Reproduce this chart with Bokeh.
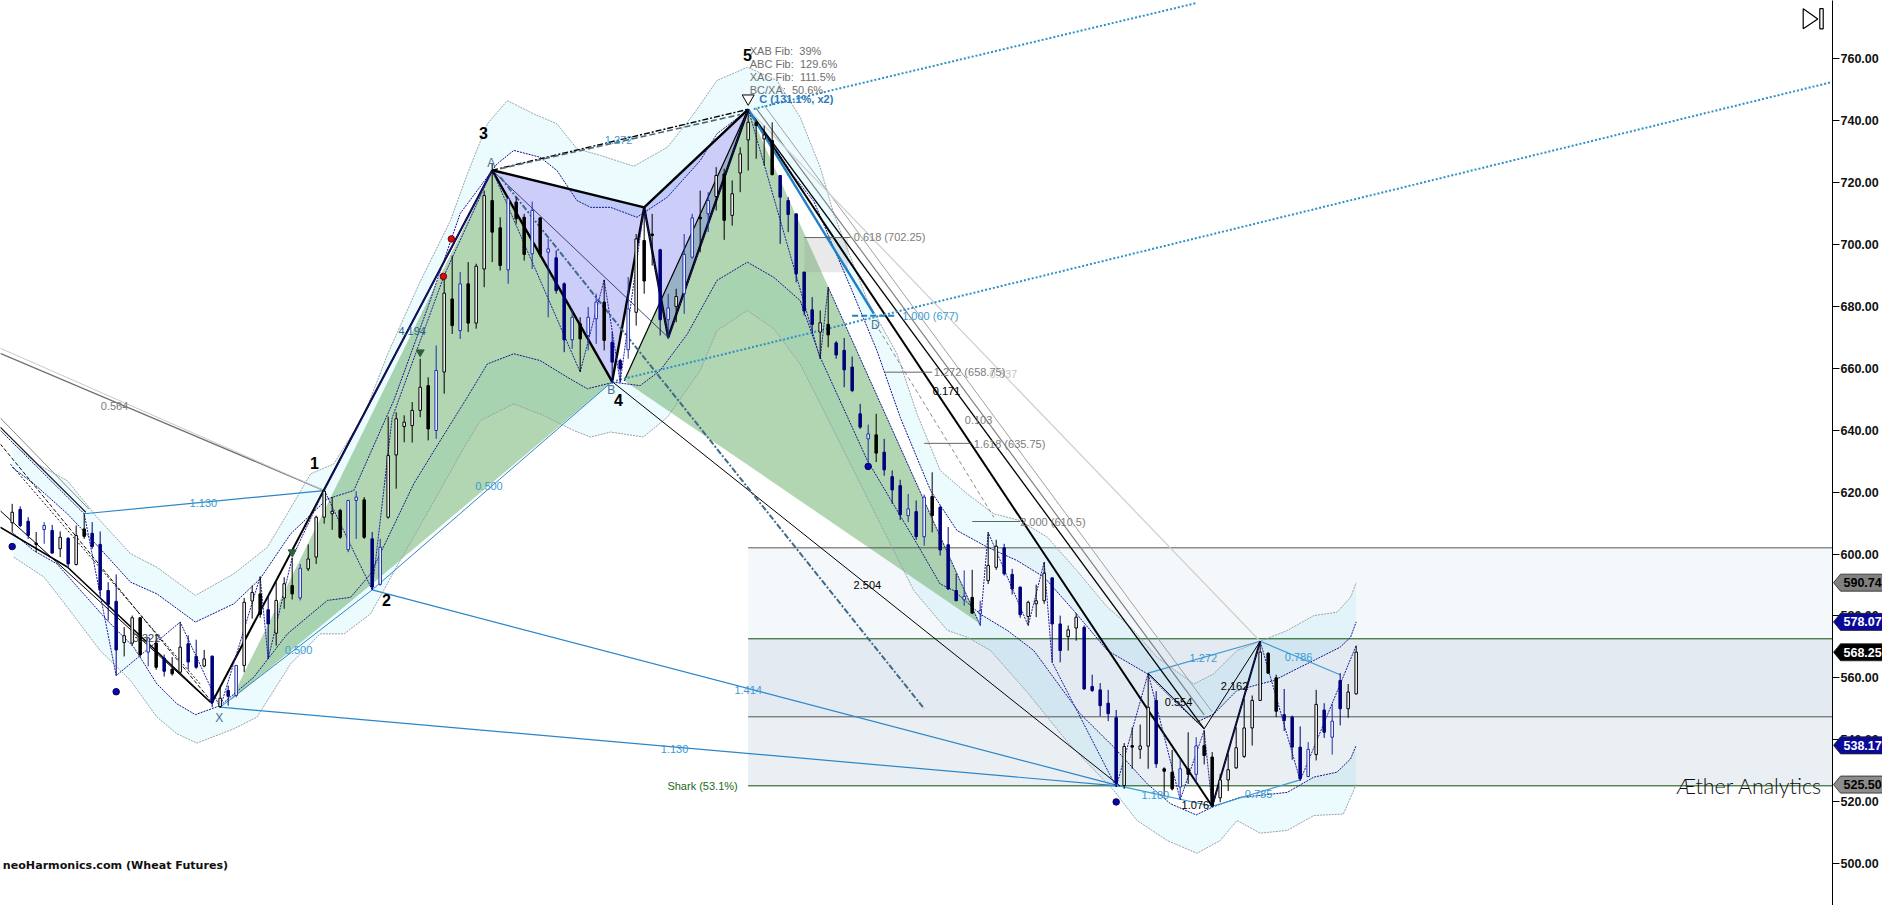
from bokeh.plotting import figure
from bokeh.embed import file_html
from bokeh.resources import INLINE
from bokeh.core.properties import value
from bokeh.layouts import column
from bokeh.models import Range1d, PolyAnnotation, NumeralTickFormatter, FixedTicker

# ---------- candle values ----------
highs = [616.2,615.4,611.9,607.1,610.3,609.4,607.3,605.4,609.2,613.0,
 610.3,607.3,590.9,593.4,576.4,580.1,579.6,573.1,574.2,567.5,
 566.7,578.0,573.7,572.3,569.0,567.2,556.8,557.5,564.0,585.8,
 589.8,592.7,586.1,590.9,592.5,598.8,596.8,603.1,612.4,620.7,
 618.4,614.6,617.5,620.3,618.4,607.1,604.9,644.4,645.8,644.8,
 649.1,663.1,657.1,667.4,689.5,696.4,691.1,694.3,693.8,717.4,
 726.1,708.8,715.3,715.3,709.9,713.9,708.8,701.8,698.1,687.8,
 679.2,676.5,679.8,684.1,688.6,671.7,663.1,689.5,703.4,712.1,
 709.9,698.6,684.1,685.7,703.4,709.9,717.4,716.9,725.0,724.5,
 720.7,731.4,743.8,740.1,738.4,739.5,722.3,715.3,709.9,691.1,
 683.0,678.7,686.2,668.8,669.8,663.8,648.5,641.8,645.3,637.2,
 627.0,624.0,619.4,617.3,619.2,626.4,615.7,608.7,593.6,594.7,
 594.9,584.9,607.0,604.6,603.3,595.2,589.5,584.9,590.1,597.4,
 592.3,580.1,576.9,580.9,576.9,561.0,558.3,556.1,549.6,538.9,
 544.0,544.9,561.5,555.7,531.1,536.7,533.8,542.4,540.8,543.0,
 536.0,529.0,535.4,544.0,553.2,554.3,571.8,568.3,561.0,556.4,
 547.8,544.3,539.2,556.1,551.8,551.6,561.5,558.0,570.4]
body_tops = [613.5,614.4,610.6,603.5,609.2,607.6,605.4,605.1,606.0,608.1,
 606.7,603.1,588.2,584.7,573.6,579.4,579.4,572.9,571.2,566.3,
 562.8,569.9,571.0,566.9,566.1,567.0,553.4,555.9,564.0,584.4,
 587.6,587.1,582.0,585.0,590.4,589.8,595.4,598.4,611.9,620.3,
 613.8,614.1,617.3,618.4,617.5,604.9,602.2,631.8,643.7,642.6,
 646.4,653.9,654.4,659.3,684.3,682.4,687.3,687.3,693.0,715.8,
 714.2,705.4,714.8,713.7,708.8,711.0,708.6,698.6,695.7,687.3,
 676.5,674.4,676.5,681.4,681.4,668.4,662.5,679.2,701.8,701.3,
 703.4,698.3,679.5,683.2,696.8,708.6,708.8,714.2,722.3,722.8,
 716.4,729.3,739.5,739.5,735.4,733.6,722.3,714.2,709.9,691.1,
 678.9,674.7,674.2,668.2,665.8,660.4,645.3,638.8,638.5,632.9,
 625.0,622.1,614.6,613.7,618.4,618.6,615.1,603.0,588.2,586.3,
 586.0,581.7,596.3,602.5,602.0,593.4,589.3,584.4,584.9,593.8,
 592.3,577.4,575.5,579.6,576.3,557.2,556.1,551.8,547.1,537.8,
 538.1,538.0,550.5,552.7,530.6,529.5,530.6,530.6,538.0,538.1,
 534.4,527.0,530.3,537.4,543.8,552.7,568.3,567.9,560.0,548.1,
 547.3,537.6,536.9,551.4,549.6,546.0,559.1,555.4,568.3]
body_bots = [610.1,609.2,606.0,603.1,607.9,600.3,601.7,596.8,596.6,605.7,
 602.4,588.4,583.7,569.0,571.4,571.2,567.5,568.3,563.4,562.1,
 561.3,561.8,565.1,563.4,563.8,552.1,550.7,554.0,554.3,564.0,
 584.8,580.5,577.4,574.4,585.8,587.1,585.8,595.2,599.0,611.9,
 613.0,605.4,601.4,617.3,605.4,589.3,590.2,611.9,632.0,641.2,
 641.5,646.4,640.4,639.9,658.8,673.8,672.2,674.6,674.6,692.1,
 704.0,693.2,691.8,708.3,696.8,697.0,696.8,697.5,685.1,669.2,
 669.2,669.5,670.6,676.0,669.0,662.0,659.8,666.0,678.1,688.2,
 702.9,675.7,675.7,680.0,684.1,695.9,708.3,709.9,715.5,707.8,
 709.4,723.1,733.8,738.4,734.1,722.6,715.3,709.7,690.5,678.5,
 674.2,671.7,670.8,664.3,659.5,652.8,641.0,637.2,632.6,627.2,
 620.7,612.7,612.4,605.6,605.6,612.4,601.3,588.7,584.9,585.2,
 580.9,580.7,591.4,595.7,593.6,588.7,580.4,579.8,583.9,584.9,
 577.4,568.8,573.3,576.1,556.4,555.9,551.0,548.4,525.9,525.2,
 537.6,536.9,537.9,532.2,529.8,524.1,524.7,528.8,528.8,534.9,
 518.7,521.2,527.0,530.9,534.6,543.8,552.7,561.5,549.2,546.2,
 537.6,527.4,528.1,535.2,542.4,540.8,550.0,550.0,554.8]
lows = [607.1,608.7,604.9,600.6,603.3,600.1,599.0,595.8,596.3,604.9,
 601.7,586.6,578.5,560.7,566.9,570.4,566.7,563.7,562.6,560.4,
 560.7,561.3,562.6,562.9,563.4,550.5,550.3,551.0,553.7,561.8,
 579.1,579.4,566.1,570.4,582.3,585.3,585.0,594.5,596.8,609.8,
 607.8,604.9,600.6,604.9,604.9,588.4,589.8,611.4,621.1,636.1,
 636.0,644.2,636.7,637.2,651.8,671.1,669.5,671.7,672.8,686.2,
 694.3,691.6,687.3,706.7,694.8,692.1,695.9,676.5,684.1,665.2,
 666.3,658.8,665.8,667.9,665.8,655.0,655.5,663.1,673.8,684.1,
 693.2,670.6,669.5,674.9,677.6,695.4,697.5,704.0,711.0,701.5,
 706.1,716.9,723.9,727.7,725.5,722.3,700.2,704.0,687.8,677.1,
 671.1,663.1,666.8,663.1,653.9,652.3,640.4,629.7,629.7,625.3,
 616.2,611.0,610.3,604.6,602.7,607.0,599.5,588.4,584.9,583.3,
 580.7,576.9,590.3,594.9,593.0,586.9,579.4,576.9,579.6,583.9,
 565.0,565.0,568.8,572.0,556.1,555.4,547.6,546.0,524.7,524.1,
 530.6,533.8,530.6,530.9,522.0,523.6,520.6,525.7,525.9,532.0,
 518.2,519.8,523.4,530.6,534.1,538.1,552.5,561.3,547.3,542.8,
 533.5,526.8,527.9,533.3,540.6,535.2,544.6,547.1,554.6]
kinds = list("HNNKBNHNHK" "NNNNHHKBKN" "KHNNHNHNBH" "HKNHHKBHHH" "HKBBKNBHHH"
             "HHKBHKBKHH" "KKBKKBKBNN" "BKBBKNNBHK" "KNBHBBKBHK" "HHHKHKNNNN"
             "NHKNNNNBKN" "NNBNBKNNNB" "KBHHNNNHHH" "NNHHNNNNNH" "KHHNKKBKBK"
             "KHHHHHHKKN" "NNBHNBNHH")
bars = list(range(len(highs)))

# ---------- envelope values ----------
uo_k = [0,3.1,6.9,10.6,14.8,18.1,22.9,27.7,31.9,34.4,37.3,40.2,44,47,51,54.8,56.9,59.4,61.9,65.2,68.1,70.6,73.5,77.7,81.9,85.2,88.1,91.9,95.6,98.5,101,102.7,106.9,110.6,113.1,116,119.4,122.7,126,129.4,133.1,136.9,139.8,143.1,147.7,150.2,153.1,156,159.4,162.7,165.6,167.3,168]
uo_v = [636,629.1,623.7,611.9,600.1,595.7,586.6,593.6,602.2,613,625.9,629.1,645,665,688,707.8,722.8,739,746.5,742.2,739,730.9,728.8,725.3,731.4,742.2,753,757.3,753,741.1,725,709.9,681.9,664.7,645.3,627,619.4,613,610.8,605.4,594.6,582.8,576.4,566.7,558,561.3,568.8,571.8,575.3,580.1,581.2,586,590.7]
ui_k = [0,2.7,6.9,11,14.8,18.1,22.9,27.7,31,34.8,39.4,42.7,47.7,52,56,60.6,62.7,66,68.1,70.6,72.3,74.8,78.1,81.9,86,88.1,91.9,94.4,97.7,100.2,104.8,108.1,111,114.8,118.1,121.9,125.6,129,132.7,136.9,141.9,145.2,148.1,150.2,153.1,156,157.7,160.2,162.7,166,167.3,168]
ui_v = [628,622.7,613,601.7,590.9,587.1,578,583.9,592,606.5,617.8,620.5,649.6,680,710,726,730.4,728.2,723.9,714.2,712,712,708.8,715.3,727.1,735.8,743.3,735,722,714,686.2,665.7,644.2,620.5,607.6,602.2,597.9,592.5,581.7,568.8,561.3,552.7,545.7,548.3,555.9,558,559.1,562.4,565.6,569.9,573.1,578.07]
li_k = [0,2.7,5.6,11.9,15.2,18.1,20.6,22.9,26,30.2,34.4,39.4,42.3,44.8,50.2,53,56.9,59.4,62.7,66,69.4,71.9,75.2,78.5,81,84.4,88.1,91.9,95.2,98.5,101,106.9,113.1,116,117.7,121,124.4,127.7,133.5,137.7,141.9,144.8,148,150,153.5,156,159.4,162.7,165.6,167.3,168]
li_v = [607,601.1,596.8,578.5,569.9,558,551.6,548.1,551,560.2,574.2,585,586,593.6,622.7,634.5,650.7,661.4,664.7,662.5,657.1,653.4,655.5,654.4,659.3,671.1,688.4,694.3,689.4,681.9,663.6,630.2,603.3,590.3,588.2,580.6,575.3,568.8,548.4,537.6,525.7,519.3,515.7,518.2,521.4,522,523,527.9,529.5,533.8,538.17]
lo_k = [0.2,4,6.9,11,14.8,18.1,20.6,23.1,27.7,30.6,34.8,38.5,41.5,44.8,48.5,52.3,56.5,58.5,62.7,66.4,70.2,72.3,74.8,78.9,81.9,86,88.1,91.9,95.2,98.5,102.7,108.1,112.7,116.9,119.4,122.3,127,132,137.7,140.6,144.4,148.1,151,153.1,156,159.4,162.7,166.4,168]
lo_v = [599,592.5,582.8,568.8,559.1,547.3,541.9,538.9,543.5,547.3,564.5,574.2,574.2,580.7,597.9,615.1,634.5,643.1,648.5,644.8,639.9,637.8,639.4,637.8,644.2,659.3,672.2,678.7,672.8,661.4,639.9,611.9,588.2,575.3,573.1,568.8,555,539,523.6,513.9,507.4,503.3,507.4,513.9,509.8,510.7,515.5,516,525.5]

# ---------- swing points (bar, price) ----------
X=(26,550.5); S1=(39,620.5); S2=(45,588.4); A=(60,724); B=(75,655.7); M=(79,712); Q=(82,670); C=(92,743.7)
D=(107.7,677); E=(138.5,525); F=(142,561.5); G=(149,543.5); H=(150,518.5); I=(156,571.8); J=(161,527); Z=(168,570.4)
zig_k = [-1.5,9,13,21,26,31,32,35,39,45,47.5,54,60,71,74,76,79,82,92,101,102,121,122,127,129,130,138,142,146,149,150,156,161,168]
zig_v = [640,613,560.7,578,550.3,592.7,566.1,598.8,620.7,588.4,644,690,724,658.8,688.6,655.5,712,669.5,743.8,663.1,686.2,576.9,607,576.9,597.4,565,524.7,561.5,520.6,543,518.2,571.8,526.8,570.4]
axis_ticks = list(range(500, 780, 20))
tag_values = [590.74,578.07,568.25,538.17,525.50]
tag_fills = ["#808080","#0a0a9a","#000000","#0a0a9a","#8c8c8c"]
tag_texts = ["#000000","#ffffff","#ffffff","#ffffff","#000000"]

CY="#3b9bd4"; GR="#7c7c7c"; NV="#14148c"
XR = 227.541
yr = Range1d(486.43, 778.84)
p = figure(width=1882, height=905, frame_width=1832, frame_height=905, output_backend="svg", toolbar_location=None,
           x_range=Range1d(-1.459, XR), y_range=yr, y_axis_location="right",
           min_border_left=0, min_border_top=0, min_border_bottom=0, min_border_right=50, outline_line_color=None)
p.grid.visible = False
p.xaxis.visible = False
ax = p.yaxis[0]
ax.major_tick_in = 0; ax.minor_tick_out = 0; ax.minor_tick_in = 0
ax.formatter = NumeralTickFormatter(format="0.00")
ax.major_label_text_font = "Liberation Sans"; ax.major_label_text_font_style = "bold"
ax.major_label_text_font_size = "12.5px"
ax.ticker = FixedTicker(ticks=axis_ticks)
ax.major_tick_out = 7
ax.major_label_standoff = 1
ax.axis_line_color = "#000000"; ax.major_tick_line_color = "#000000"
ax.major_label_text_color = "#111111"

def poly(pts, color, alpha):
    p.patch([a for a,_ in pts], [b for _,b in pts], fill_color=color, fill_alpha=alpha, line_color=None)
def ln(a, b, color="#000000", w=1.0, dash="solid", alpha=1.0):
    p.line([a[0],b[0]], [a[1],b[1]], line_color=color, line_width=w, line_dash=dash, line_alpha=alpha)

# envelope fill
p.patch(uo_k+ui_k[::-1], uo_v+ui_v[::-1], fill_color="#ebfbfe", line_color=None)
p.patch(li_k+lo_k[::-1], li_v+lo_v[::-1], fill_color="#ebfbfe", line_color=None)

# zone blocks
p.quad(left=[92]*3, right=[XR]*3, top=[602,572.6,547.4], bottom=[572.6,547.4,525.1],
       fill_color=["#5a86b4","#3c6a9c","#3c6a9c"], fill_alpha=[0.06,0.14,0.11], line_color=None)

# green and purple pattern bodies
poly([(27.3,552.7),A,B,(45.3,591)], "#5fa85f", 0.48)
poly([(76.5,656),C,(121,577.5)], "#5fa85f", 0.48)
poly([(99,702.25),(104.5,702.25),(104.5,691),(99,691)], "#909090", 0.2)
poly([A,M,B], "#6868f0", 0.33)
poly([M,C,Q], "#6868f0", 0.33)

# zone edges
p.segment([92,92],[602,547.4],[XR,XR],[602,547.4], line_color="#555555", line_width=1)
p.segment([92,92],[572.6,525.1],[XR,XR],[572.6,525.1], line_color="#0c4f0c", line_width=1)

# envelope lines
for xs,ys,c in [(uo_k,uo_v,"#98a2a8"),(lo_k,lo_v,"#98a2a8"),(ui_k,ui_v,NV),(li_k,li_v,NV)]:
    p.line(xs,ys,line_color=c,line_width=1,line_dash="2 1")

# long pattern lines
ln((-1.5,664.8),S1,"#707070",1.3); ln((-1.5,666.5),S1,"#c8c8c8",1)
ln((-1.5,641),(9.2,613.5),"#111111",1.2); ln((-1.5,644),(9.6,614.5),"#888888",1)
ln((-1.5,608.7),(6.9,595.8),"#000000",1.6); ln((6.9,595.8),(24.8,552.1),"#000000",1.6)
ln((-1.5,614),(24.8,552),"#000000",1); ln((-1.5,635.6),(24.8,552.7),"#111111",1,"4 2"); ln((-0.2,629),(23.5,558),"#111111",1,"2 2")
ln((9,613),S1,"#2a86c8",1.2); ln(X,E,"#2a86c8",1.2); ln(S2,E,"#2a86c8",1.2); ln(X,S2,"#2a86c8",1); ln(S2,B,"#2a86c8",1)
ln(B,E,"#000000",1)
ln(F,I,"#3b9bd4",1.2); ln(I,(166,561),"#3b9bd4",1.2); ln(E,H,"#3b9bd4",1.2); ln(H,J,"#3b9bd4",1.2)
ln((24.9,551.6),A,"#000000",2); ln(S1,A,NV,1.2)
ln(A,M,"#000000",2.4); ln(M,C,"#000000",2.4); ln(A,B,"#000000",2.4); ln(B,M,"#000000",2.4); ln(M,Q,"#000000",2.4); ln(Q,C,"#000000",2.4)
ln((76.5,656),C,"#000000",1.2); ln(A,Q,"#1a1a60",0.8)
ln(A,C,"#000000",1.4,"6 2 2 2"); ln((61,724.5),(91,742),"#506a78",1.6,"6 3")
ln((61,721.8),(114,550),"#3f6a8a",2,"6 2 2 2")
ln(C,H,"#000000",2); ln(C,G,"#000000",1.3); ln((93,744),(149,548),"#808080",1.2); ln((94,745),(150,549),"#a0a0a0",1); ln(C,I,"#d0d0d0",1.3)
ln(F,G,"#000000",1); ln(G,I,"#000000",1); ln(H,I,"#000000",2)
ln(C,(107.7,677.7),"#1f80c8",2.4); ln((105,677),(110.6,677),"#1f80c8",2,"6 3")
ln(B,(227.5,752.5),"#2f8fc8",2,"2 2"); ln((92.7,743.8),(148,778),"#2f8fc8",2,"2 2")
ln((107.9,674.4),(122.7,611.9),"#8a8a8a",1,"4 3")
for y,a,b in [(702.25,99,104.8),(658.75,109,115),(635.75,114,120),(610.5,120,126)]:
    ln((a,y),(b,y),"#555555",0.9)
p.line(zig_k,zig_v,line_color="#1c1ca0",line_width=1,line_dash="2 1")

# candles
wc = ["#000000" if k in "HK" else "#00007a" if k=="N" else "#1c2ca8" for k in kinds]
bf = {"H":"#ffffff","B":"#ffffff","K":"#000000","N":"#00007a"}
bl = {"H":"#000000","B":"#1c2ca8","K":"#000000","N":"#00007a"}
p.segment(bars,highs,bars,lows,line_color=wc,line_width=1)
p.vbar(x=bars,top=body_tops,bottom=body_bots,width=0.31,fill_color=[bf[k] for k in kinds],line_color=[bl[k] for k in kinds],line_width=1)

# markers
p.scatter([0,13,107,138],[602.4,555.5,628.3,519.9],marker="circle",size=6.5,fill_color="#0808a8",line_color="#000060")
p.scatter([54.9,53.9],[701.8,689.7],marker="circle",size=6.5,fill_color="#d01010",line_color="#700000")
p.scatter([51,35],[665.2,600.6],marker="inverted_triangle",size=8,fill_color="#2f5f3f",line_color="#2f5f3f")
p.scatter([92],[747.2],marker="inverted_triangle",size=12,fill_color="#ffffff",line_color="#000000")

# texts
def tx(items, color, size="11px", style="normal", align="center", font="Liberation Sans", alpha=1.0):
    p.text([i[0] for i in items],[i[1] for i in items],text=[i[2] for i in items],text_color=color,text_font=value(font),
           text_font_size=size,text_font_style=style,text_align=align,text_baseline="middle",text_alpha=alpha)
tx([(37.8,629.5,"1"),(46.8,585,"2"),(58.9,736.1,"3"),(75.8,649.6,"4"),(91.9,761.3,"5")],"#000000","16px","bold")
tx([(25.9,547,"X"),(59.9,726.3,"A"),(74.9,653,"B"),(107.9,674.1,"D")],"#47708f","12px")
tx([(23.9,616.6,"1.130"),(35.8,569,"0.500"),(59.6,622.1,"0.500"),(75.8,733.8,"1.272"),(92,555.9,"1.414"),(82.8,536.9,"1.130"),
    (142.9,522,"1.180"),(155.8,522.5,"0.785"),(148.9,566.5,"1.272"),(160.8,566.6,"0.786")],CY)
tx([(12.8,647.7,"0.564"),(120.8,643.4,"0.103")],GR)
tx([(123.9,658,"0.337")],"#c4c4c4")
tx([(50,671.9,"4.194")],"#2c6488")
tx([(16.8,572.7,"3.322")],"#444444")
tx([(106.9,590.1,"2.504"),(116.8,652.8,"0.171"),(147.9,519,"1.076"),(145.8,552.3,"0.554"),(152.8,557.5,"2.162")],"#000000")
tx([(105.2,702.3,"0.618 (702.25)"),(115.2,658.7,"1.272 (658.75)"),(120.2,635.7,"1.618 (635.75)"),(126,610.3,"2.000 (610.5)")],GR,align="left")
tx([(111.25,677,"1.000 (677)")],CY,align="left")
tx([(92.2,762.4,"XAB Fib:\u00a0 39%"),(92.2,758.2,"ABC Fib:\u00a0 129.6%"),(92.2,754,"XAC Fib:\u00a0 111.5%"),(92.2,749.8,"BC/XA:\u00a0 50.6%")],"#6e6e6e",align="left")
tx([(93.4,746.9,"C (131.1%, x2)")],"#2e78b8",style="bold",align="left")
tx([(86.3,525.2,"Shark (53.1%)")],"#1a6b1a")
tx([(-1.17,499.3,"neoHarmonics.com (Wheat Futures)")],"#111111","11.1px","bold",align="left",font="DejaVu Sans")
tx([(208.0,524.9,"Æther Analytics")],"#111111","21.4px",align="left",font="Lato Light")

# replay icon
p.add_layout(PolyAnnotation(xs=[1802.7,1802.7,1817.3],ys=[776.2,769.7,772.9],xs_units="canvas",ys_units="data",fill_color="#ffffff",fill_alpha=1,line_color="#000000",line_alpha=1,line_width=1.2))
p.add_layout(PolyAnnotation(xs=[1819.3,1822.7,1822.7,1819.3],ys=[776.2,776.2,769.7,769.7],xs_units="canvas",ys_units="data",fill_color="#ffffff",fill_alpha=1,line_color="#000000",line_alpha=1,line_width=1.2))

# price tags: a transparent strip laid over the axis, sharing its price scale
tags = figure(width=50, height=905, frame_width=50, frame_height=905, output_backend="svg", toolbar_location=None,
              x_range=Range1d(0,50), y_range=yr, min_border=0, outline_line_color=None,
              background_fill_alpha=0, border_fill_alpha=0, x_axis_location=None, y_axis_location=None,
              styles={"position":"absolute","left":"1832px","top":"0px"})
tags.grid.visible = False
hh = 2.75
tags.patches([[1,8,50,50,8] for _ in tag_values],
             [[v,v+hh,v+hh,v-hh,v-hh] for v in tag_values],
             fill_color=tag_fills, line_color="#222222", line_width=0.8)
tags.text([11]*len(tag_values), tag_values, text=[f"{v:.2f}" for v in tag_values], text_color=tag_texts,
          text_font=value("Liberation Sans"), text_font_style="bold", text_font_size="12.5px", text_baseline="middle", text_align="left")

open("out.html","w").write(file_html(column(p, tags), INLINE))
